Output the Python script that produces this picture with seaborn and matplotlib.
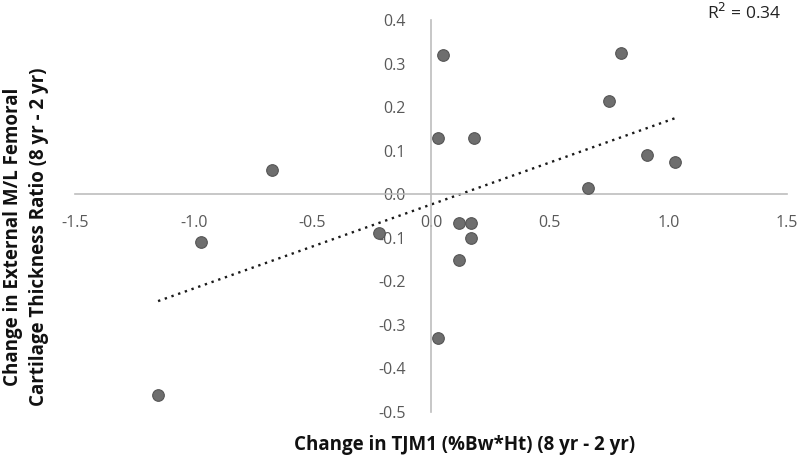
import numpy as np
import pandas as pd
import seaborn as sns
import matplotlib
matplotlib.use("Agg")
import matplotlib.pyplot as plt

# Data
tjm1_change = [-1.15, -0.97, -0.67, -0.22, 0.03, 0.03, 0.05, 0.12, 0.12, 0.17, 0.17,
               0.18, 0.66, 0.75, 0.80, 0.91, 1.03]
ratio_change = [-0.46, -0.11, 0.055, -0.09, -0.33, 0.13, 0.32, -0.15, -0.065, -0.065, -0.10,
                0.13, 0.015, 0.215, 0.325, 0.09, 0.075]
x_ticks = [-1.5, -1.0, -0.5, 0.0, 0.5, 1.0, 1.5]
y_ticks = [-0.5, -0.4, -0.3, -0.2, -0.1, 0.0, 0.1, 0.2, 0.3, 0.4]
r2_label = "R$^2$ = 0.34"
x_label = "Change in TJM1 (%Bw*Ht) (8 yr - 2 yr)"
y_label = "Change in External M/L Femoral\nCartilage Thickness Ratio (8 yr - 2 yr)"

df = pd.DataFrame({"x": tjm1_change, "y": ratio_change})

sns.set_style("white")
plt.rcParams["font.family"] = ["Open Sans", "DejaVu Sans"]

fig = plt.figure(figsize=(8, 4.58), dpi=100)
ax = fig.add_axes([75 / 800, 1 - 412 / 458, 712 / 800, 392 / 458])

sns.scatterplot(data=df, x="x", y="y", ax=ax, s=70, color="#6e6e6e",
                edgecolor="#555555", linewidth=0.8, zorder=3)

# linear trendline across the data range
slope, intercept = np.polyfit(df["x"], df["y"], 1)
xs = np.array([df["x"].min(), df["x"].max()])
ax.plot(xs, slope * xs + intercept, linestyle=(0, (1, 2.0)), color="#1a1a1a",
        linewidth=1.7, zorder=2)

ax.set_xlim(-1.5, 1.5)
ax.set_ylim(-0.5, 0.4)
ax.set_xticks(x_ticks)
ax.set_yticks(y_ticks)
ax.set_xticklabels([f"{v:.1f}" for v in x_ticks])
ax.set_yticklabels([f"{v:.1f}" for v in y_ticks])

for side in ["top", "right"]:
    ax.spines[side].set_visible(False)
ax.spines["left"].set_position(("data", 0))
ax.spines["bottom"].set_position(("data", 0))
for side in ["left", "bottom"]:
    ax.spines[side].set_color("#bdbdbd")
    ax.spines[side].set_linewidth(1.2)

ax.tick_params(axis="both", length=0, labelsize=11.5, labelcolor="#595959")
ax.tick_params(axis="x", pad=15)
ax.tick_params(axis="y", pad=18)
ax.set_xlabel("")
ax.set_ylabel("")

fig.text(465 / 800, 1 - 445 / 458, x_label, ha="center", va="center",
         fontsize=13.5, fontweight="bold", color="#111111")
fig.text(26 / 800, 1 - 237 / 458, y_label, ha="center", va="center",
         rotation=90, fontsize=13.5, fontweight="bold", color="#111111",
         linespacing=1.45)
fig.text(744 / 800, 1 - 13 / 458, r2_label, ha="center", va="center",
         fontsize=12.5, color="#222222")

fig.savefig("out.png", dpi=100)
